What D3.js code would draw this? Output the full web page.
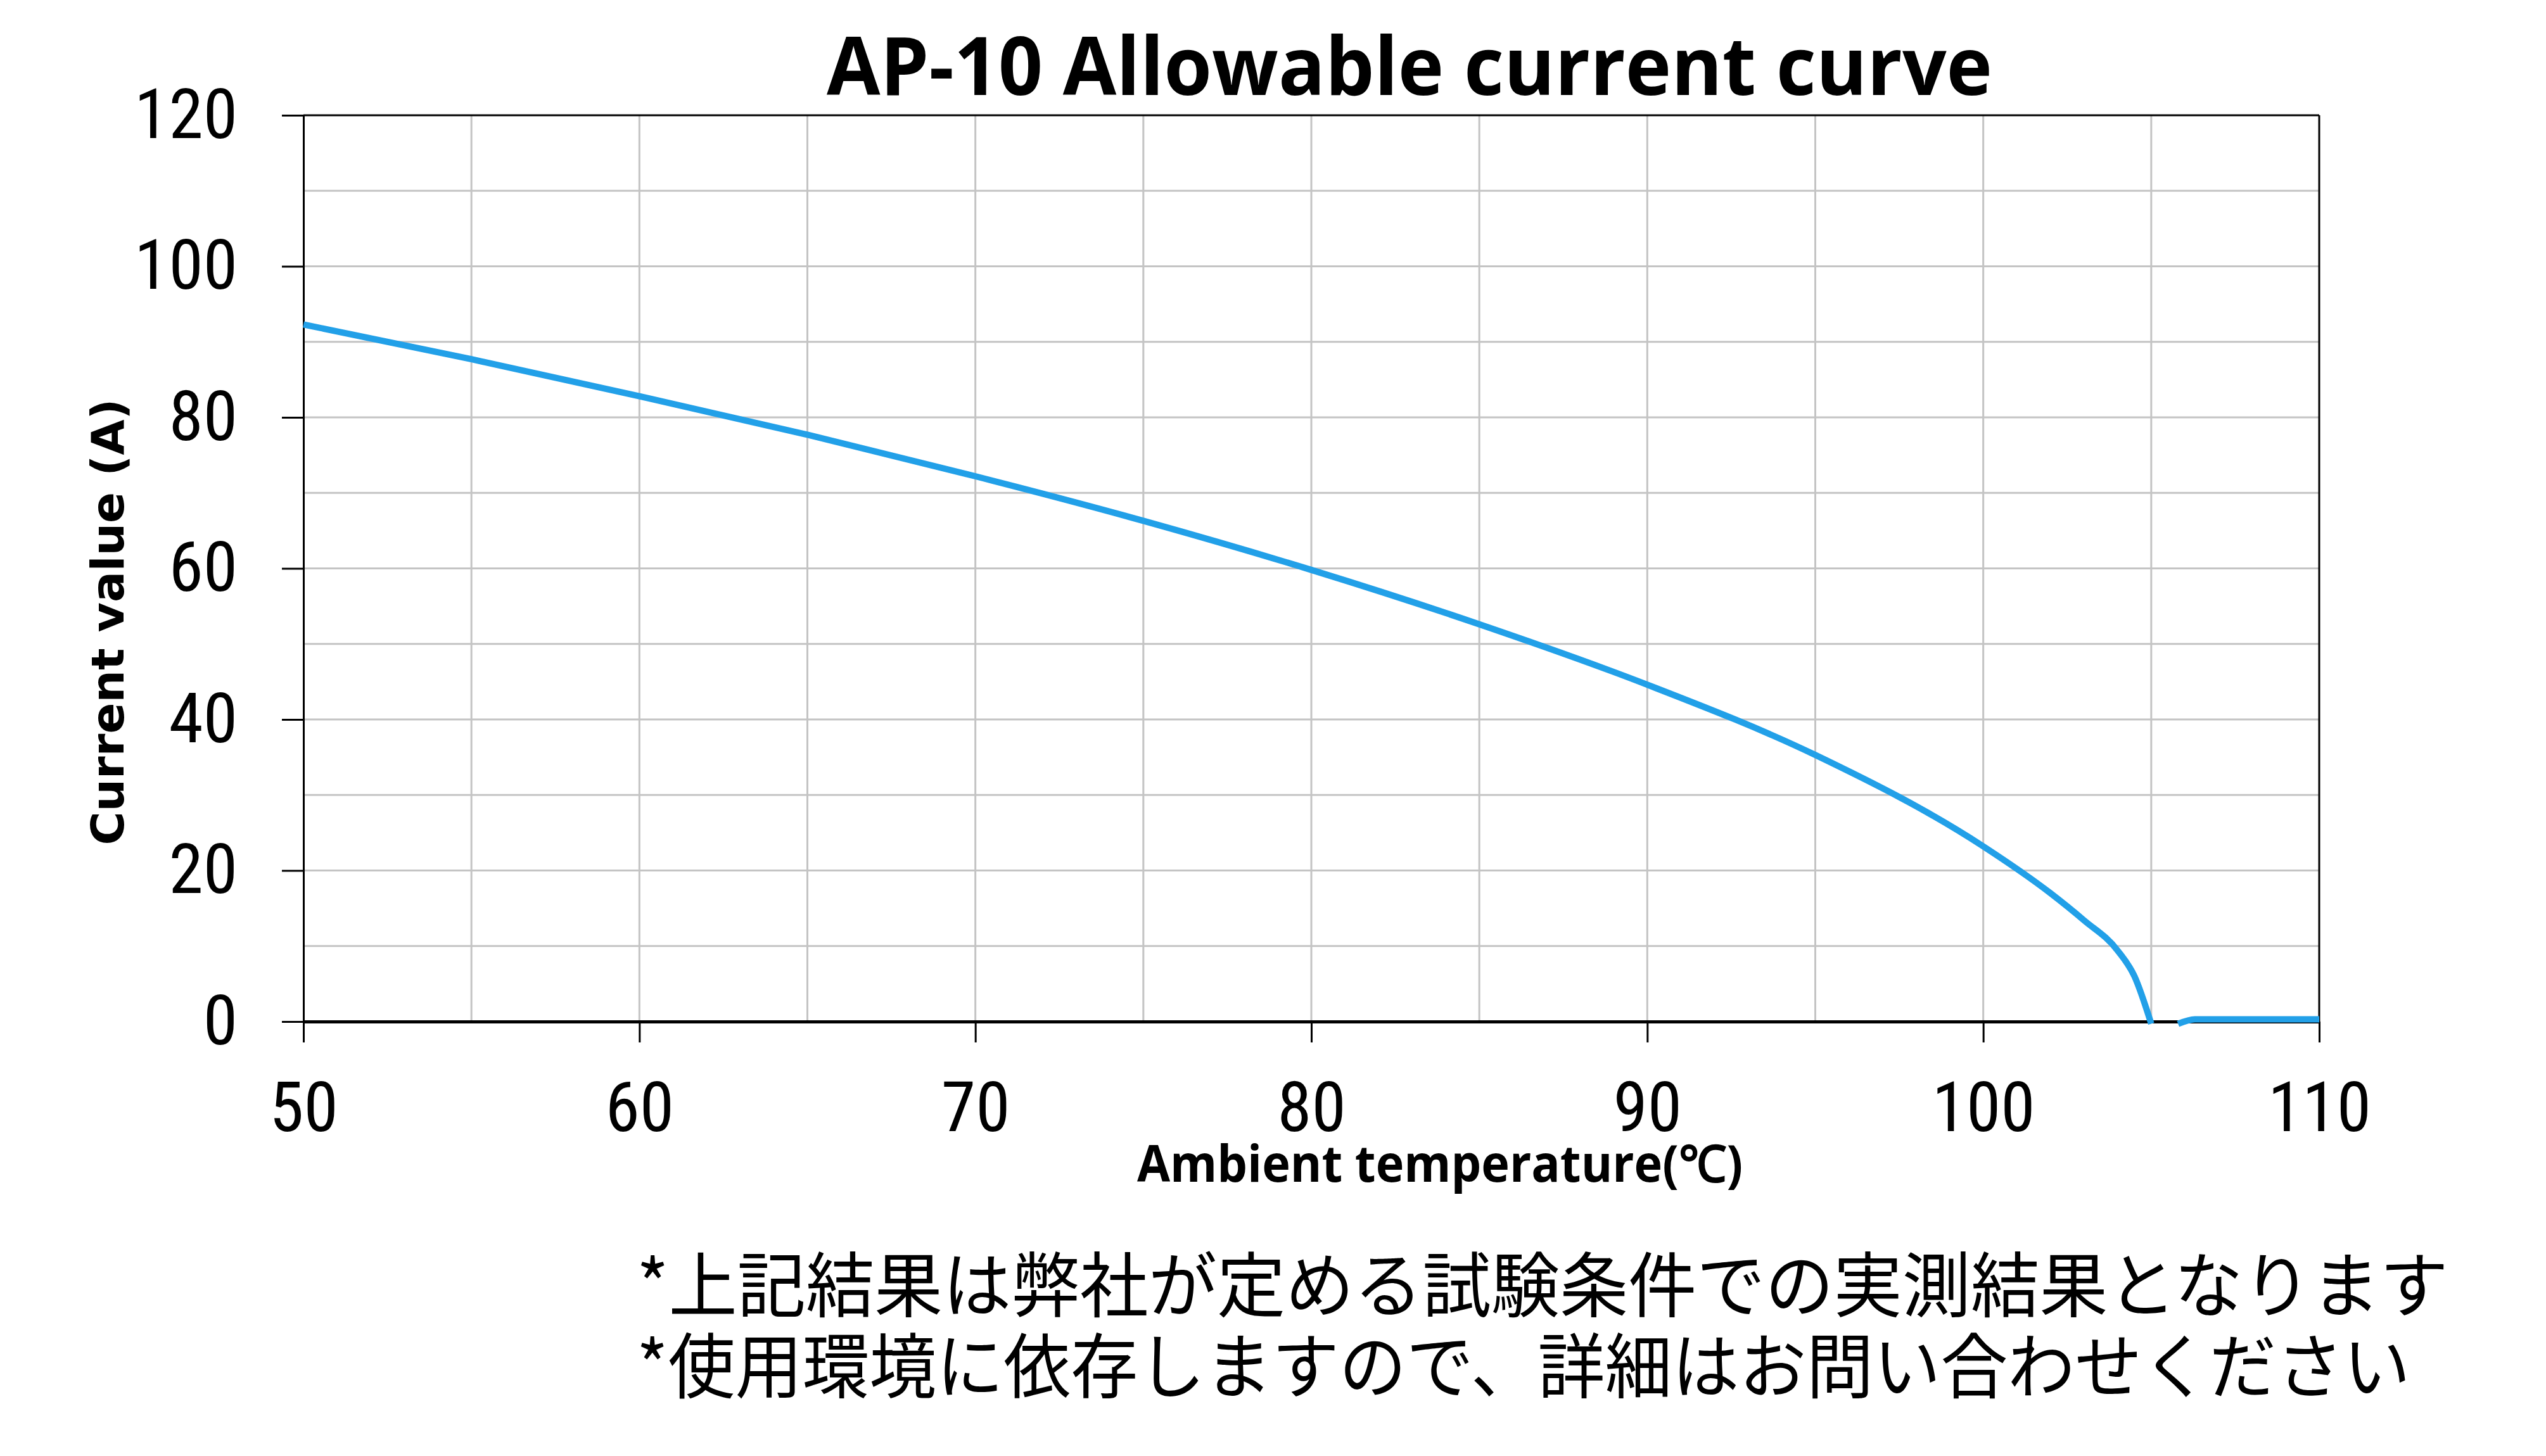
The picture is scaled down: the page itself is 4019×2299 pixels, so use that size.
<!DOCTYPE html>
<html>
<head>
<meta charset="utf-8">
<script src="https://cdn.jsdelivr.net/npm/d3@7"></script>
<style>
  body { margin: 0; background: #fff; }
  svg { display: block; }
</style>
</head>
<body>
<svg id="chart" width="4019" height="2299"></svg>
<script>
// curve
const temps    = [50, 55, 60, 65, 70, 75, 80, 85, 90, 95, 100, 102, 103, 104, 104.5, 105, null, 105.8, 106.3, 110];
const currents = [92.3, 87.7, 82.8, 77.7, 72.2, 66.3, 59.8, 52.6, 44.6, 35.3, 23.2, 17.0, 13.4, 9.4, 6.0, -0.3, null, -0.3, 0.3, 0.3];
const xTicks = [50, 60, 70, 80, 90, 100, 110];
const yTicks = [0, 20, 40, 60, 80, 100, 120];
const titleText = "AP-10 Allowable current curve";
const xTitle = "Ambient temperature(℃)";
const yTitle = "Current value (A)";
const notes = ["*上記結果は弊社が定める試験条件での実測結果となります", "*使用環境に依存しますので、詳細はお問い合わせください"];

const svg = d3.select("#chart");
const pLeft = 479, pRight = 3661, pTop = 182, pBottom = 1613;

const x = d3.scaleLinear().domain([50, 110]).range([pLeft, pRight]);
const y = d3.scaleLinear().domain([0, 120]).range([pBottom, pTop]);

const grid = svg.append("g").attr("stroke", "#c4c4c4").attr("stroke-width", 3);
grid.selectAll(".vg").data(d3.range(55, 110, 5)).enter().append("line")
    .attr("x1", d => x(d)).attr("x2", d => x(d)).attr("y1", pTop).attr("y2", pBottom);
grid.selectAll(".hg").data(d3.range(10, 120, 10)).enter().append("line")
    .attr("x1", pLeft).attr("x2", pRight).attr("y1", d => y(d)).attr("y2", d => y(d));

// frame top/right
svg.append("line").attr("x1", pLeft).attr("x2", pRight).attr("y1", pTop).attr("y2", pTop).attr("stroke", "#000").attr("stroke-width", 3);
svg.append("line").attr("x1", pRight).attr("x2", pRight).attr("y1", pTop).attr("y2", pBottom).attr("stroke", "#000").attr("stroke-width", 3);

const tickFont = "'Liberation Sans Narrow', 'Arial Narrow', 'Roboto Condensed', sans-serif";

const xAxis = svg.append("g").attr("transform", `translate(0,${pBottom})`)
    .call(d3.axisBottom(x).tickValues(xTicks).tickSize(33).tickSizeOuter(0).tickPadding(62));
xAxis.select(".domain").attr("stroke-width", 5);
xAxis.selectAll(".tick line").attr("stroke-width", 3);
xAxis.selectAll("text").attr("font-family", tickFont).attr("font-size", 110).attr("fill", "#000");

const yAxis = svg.append("g").attr("transform", `translate(${pLeft},0)`)
    .call(d3.axisLeft(y).tickValues(yTicks).tickSize(34).tickSizeOuter(0).tickPadding(70));
yAxis.select(".domain").attr("stroke-width", 3);
yAxis.selectAll(".tick line").attr("stroke-width", 3);
yAxis.selectAll("text").attr("font-family", tickFont).attr("font-size", 110).attr("fill", "#000");

const pts = temps.map((t, i) => ({t, c: currents[i]}));
const line = d3.line().defined(d => d.t !== null).x(d => x(d.t)).y(d => y(d.c)).curve(d3.curveMonotoneX);
svg.append("path").datum(pts).attr("d", line)
    .attr("fill", "none").attr("stroke", "#22a0e8").attr("stroke-width", 10).attr("stroke-linejoin", "round");

svg.append("text").attr("x", 2225).attr("y", 150).attr("text-anchor", "middle")
    .attr("font-family", "'Open Sans', sans-serif").attr("font-weight", "bold").attr("font-size", 128)
    .attr("textLength", 1840).attr("lengthAdjust", "spacingAndGlyphs").text(titleText);

svg.append("text").attr("x", 2273).attr("y", 1866).attr("text-anchor", "middle")
    .attr("font-family", "'Open Sans', sans-serif").attr("font-weight", "bold").attr("font-size", 80)
    .attr("textLength", 956).attr("lengthAdjust", "spacingAndGlyphs").text(xTitle);

svg.append("text").attr("transform", "translate(195,982) rotate(-90)").attr("text-anchor", "middle")
    .attr("font-family", "'DejaVu Sans', sans-serif").attr("font-weight", "bold").attr("font-size", 72)
    .attr("textLength", 705).attr("lengthAdjust", "spacingAndGlyphs").text(yTitle);

svg.selectAll(".note").data(notes).enter().append("text")
    .attr("x", 1005).attr("y", (d, i) => 2071 + i * 128)
    .attr("font-family", "'Noto Sans CJK JP', sans-serif").attr("font-size", 112)
    .attr("textLength", (d, i) => i === 0 ? 2860 : 2800).attr("lengthAdjust", "spacingAndGlyphs")
    .text(d => d);
</script>
</body>
</html>
